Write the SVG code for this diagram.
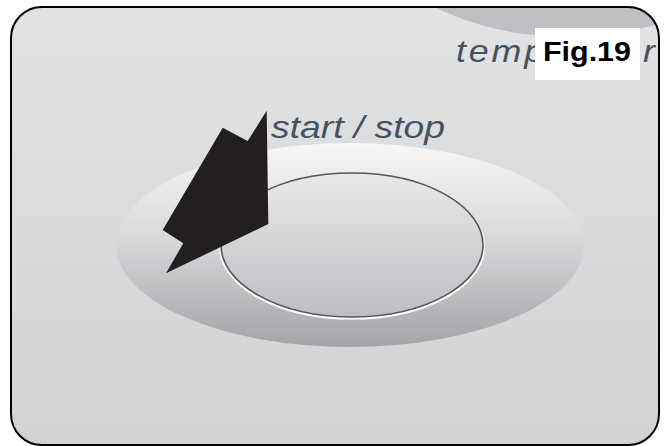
<svg xmlns="http://www.w3.org/2000/svg" width="667" height="446" viewBox="0 0 667 446">
  <defs>
    <linearGradient id="panelFill" x1="0" y1="0" x2="0" y2="1">
      <stop offset="0" stop-color="#e2e3e5"/>
      <stop offset="1" stop-color="#d1d2d4"/>
    </linearGradient>
    <linearGradient id="ringFill" x1="0" y1="0" x2="0" y2="1">
      <stop offset="0" stop-color="#f7f7f7"/>
      <stop offset="0.45" stop-color="#d9dadc"/>
      <stop offset="1" stop-color="#a3a4a7"/>
    </linearGradient>
    <linearGradient id="buttonFill" x1="0" y1="0" x2="0" y2="1">
      <stop offset="0" stop-color="#e8e9ea"/>
      <stop offset="1" stop-color="#bdbec1"/>
    </linearGradient>
    <clipPath id="panelClip">
      <rect x="11" y="7" width="648" height="438" rx="31" ry="31"/>
    </clipPath>
    <style>
      .label { font-family: "Liberation Sans", Arial, sans-serif; font-style: italic; fill: #46535e; }
      .fig { font-family: "Liberation Sans", Arial, sans-serif; font-weight: bold; fill: #000000; }
    </style>
  </defs>

  <!-- control panel background -->
  <g id="panel">
    <rect x="11" y="7" width="648" height="438" rx="31" ry="31" fill="url(#panelFill)"/>
    <g clip-path="url(#panelClip)">
      <!-- lower edge of the neighbouring temperature knob -->
      <ellipse cx="568" cy="-113" rx="222" ry="150" fill="#bebfc2"/>
      <text class="label" transform="translate(456 62) scale(1.12 1)" x="0" y="0" font-size="32" letter-spacing="2.55">temperature</text>
    </g>
  </g>

  <!-- start / stop button -->
  <g id="start-stop-button">
    <ellipse cx="350" cy="245" rx="234" ry="102" fill="url(#ringFill)"/>
    <ellipse cx="352" cy="246.5" rx="132" ry="72" fill="none" stroke="#ffffff" stroke-width="2.2"/>
    <ellipse cx="352" cy="245" rx="131" ry="72" fill="url(#buttonFill)" stroke="#555658" stroke-width="1.6"/>
    <text class="label" x="271" y="138" font-size="32" textLength="174" lengthAdjust="spacingAndGlyphs">start / stop</text>
  </g>

  <!-- pointer arrow -->
  <g id="arrow">
    <polygon points="266.7,110.7 268.3,224 166,273.3 183.3,243.3 162.7,230 222.7,127.7 247.7,141" fill="#231f20"/>
  </g>

  <!-- figure tag -->
  <g id="fig-label">
    <rect x="535" y="28" width="105" height="52" fill="#ffffff"/>
    <text class="fig" x="543" y="61" font-size="27" textLength="88" lengthAdjust="spacingAndGlyphs">Fig.19</text>
  </g>

  <!-- panel outline -->
  <rect x="11" y="7" width="648" height="438" rx="31" ry="31" fill="none" stroke="#000000" stroke-width="2"/>
</svg>
